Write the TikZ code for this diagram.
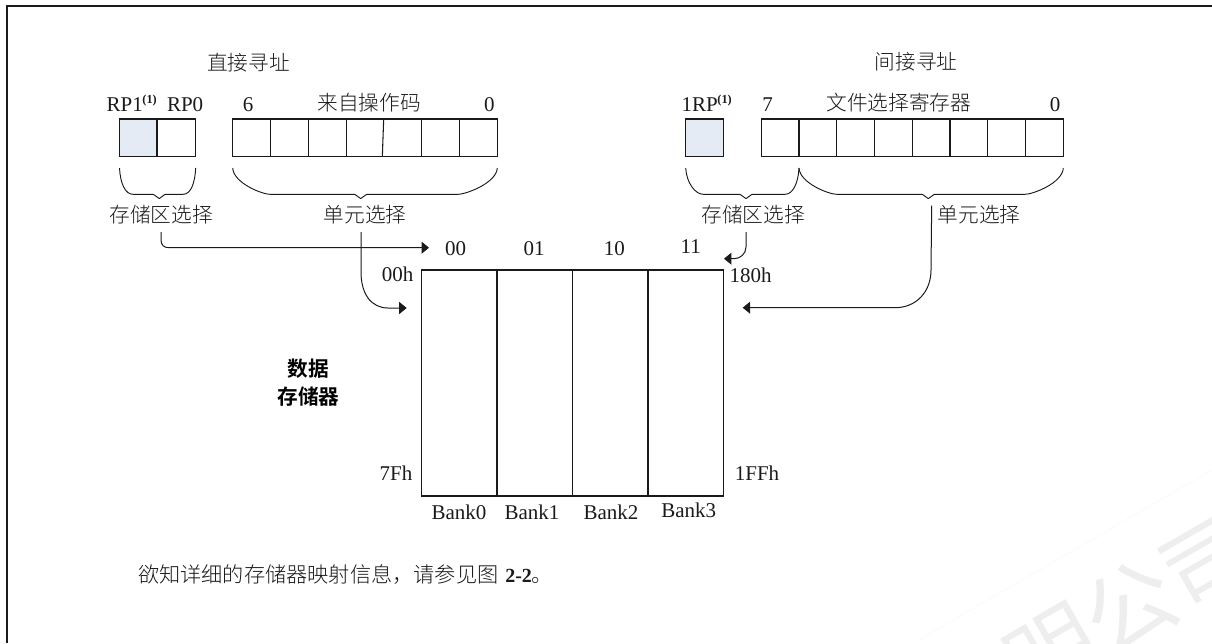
\documentclass[tikz,border=0pt]{standalone}
\usepackage{fontspec}
\setmainfont{Liberation Serif}
\newfontfamily\cjk[UprightFont={* Light},BoldFont={* Bold}]{Noto Sans CJK SC}
\newfontfamily\cjkreg{Noto Sans CJK SC}
\usetikzlibrary{arrows.meta}
\definecolor{inkc}{HTML}{1A1A1A}
\definecolor{bluefill}{HTML}{E4EBF5}
\definecolor{markc}{HTML}{EEEEEE}
\tikzset{
  cell/.style={draw=inkc,line width=0.8pt,inner sep=0,outer sep=0,anchor=center},
  lat/.style={inner sep=0,outer sep=0,font=\fontsize{15.75}{18}\selectfont,text=inkc},
  zh/.style={inner sep=0,outer sep=0,font=\fontsize{15.5}{18}\selectfont\cjk,text=inkc},
  zhbold/.style={inner sep=0,outer sep=0,font=\fontsize{15.5}{18}\selectfont\cjk\bfseries,text=black},
  wire/.style={draw=inkc,line width=0.75pt},
  wirearrow/.style={wire,-{Triangle[length=5.6pt,width=9pt]}},
  bracket/.style={draw=inkc,line width=0.7pt,line join=round},
  frameline/.style={draw=inkc,line width=1pt},
}
\newcommand{\cellat}[6]{\node[cell,fill=#6,minimum width={(#3-#2)*0.75pt},minimum height={(#5-#4)*0.75pt}] (#1) at ({(#2+#3)/2},{(#4+#5)/2}) {};}
% x0, x1 (curve ends), tip notch left, tip x, notch right, x2 (curve start), x3
\newcommand{\bracedraw}[7]{\draw[bracket] (#1,168) .. controls (#1+0.8,183) and (#2-8,194.3) .. (#2,194.3) -- (#3,194.3) -- (#4,198.6) -- (#5,194.3) -- (#6,194.3) .. controls (#6+8,194.3) and (#7-0.8,183) .. (#7,168);}
\newcommand{\supone}{\raisebox{5.4pt}{\fontsize{9.2}{10}\selectfont\bfseries\kern-0.3pt(1)}}
\begin{document}
\begin{tikzpicture}[x=0.75pt,y=-0.75pt]
\useasboundingbox (0,0) rectangle (1212,643);
\fill[white] (0,0) rectangle (1212,643);
% watermark
\begin{scope}
\clip (0,0) rectangle (1212,643);
\draw[draw=black!2,line width=0.5pt] (917,641) -- (1212,470);
\node[inner sep=0,text=markc,rotate=30,font=\fontsize{67.5}{70}\selectfont\cjkreg] (wmark) at (1130,607) {明公司};
\end{scope}
% frame
\coordinate (frameBL) at (7,643);
\coordinate (frameTL) at (7,6);
\coordinate (frameTR) at (1212,6);
\draw[frameline] (frameBL) -- (frameTL) -- (frameTR);
% headings
\node[zh] (hdirect) at (248.5,62.5) {直接寻址};
\node[zh] (hindirect) at (916,62) {间接寻址};
% direct registers
\node[lat,anchor=base west] (rp1) at (106.7,111) {RP1\supone};
\node[lat,anchor=base west] (rp0) at (167,111) {RP0};
\node[lat,anchor=base] (six) at (248,111) {6};
\node[zh] (opcode) at (369,103) {来自操作码};
\node[lat,anchor=base] (zeroa) at (489.3,111) {0};
\cellat{a1}{119.5}{157}{119}{156.7}{bluefill}
\cellat{a0}{157}{195.7}{119}{156.7}{white}
\cellat{b6}{232.7}{270.3}{119}{156.7}{white}
\cellat{b5}{270.3}{308.3}{119}{156.7}{white}
\cellat{b4}{308.3}{346.3}{119}{156.7}{white}
\cellat{b32}{346.3}{421.3}{119}{156.7}{white}
\cellat{b1}{421.3}{459.3}{119}{156.7}{white}
\cellat{b0}{459.3}{497.3}{119}{156.7}{white}
\draw[draw=inkc,line width=0.8pt] ([xshift=-0.1pt]b32.north) -- ([xshift=-1.1pt]b32.south);
% indirect registers
\node[lat,anchor=base west] (rp1r) at (681.7,111) {1RP\supone};
\node[lat,anchor=base] (seven) at (767.7,111) {7};
\node[zh] (fsr) at (898.7,103) {文件选择寄存器};
\node[lat,anchor=base] (zerob) at (1055,111) {0};
\cellat{c1}{685.7}{723.3}{119}{156.7}{bluefill}
\cellat{d7}{761.3}{799}{119}{156.7}{white}
\cellat{d6}{799}{836.7}{119}{156.7}{white}
\cellat{d5}{836.7}{874.3}{119}{156.7}{white}
\cellat{d4}{874.3}{912.3}{119}{156.7}{white}
\cellat{d3}{912.3}{950}{119}{156.7}{white}
\cellat{d2}{950}{987.7}{119}{156.7}{white}
\cellat{d1}{987.7}{1025.3}{119}{156.7}{white}
\cellat{d0}{1025.3}{1063.3}{119}{156.7}{white}
% braces
\bracedraw{119.5}{133}{153.3}{159.3}{165}{183}{195.7}
\bracedraw{232.7}{270}{354.7}{360.7}{366.7}{458}{497.3}
\bracedraw{685.7}{703.3}{740}{746}{752}{785}{799}
\bracedraw{799}{836.7}{922.3}{928.3}{934.3}{1025}{1063.3}
% brace labels
\node[zh,minimum height=25.5pt] (bankselL) at (161,215) {存储区选择};
\node[zh,minimum height=25.5pt] (unitselL) at (365,215) {单元选择};
\node[zh,minimum height=25.5pt] (bankselR) at (753,215) {存储区选择};
\node[zh] (unitselR) at (979,215) {单元选择};
% memory
\cellat{m0}{421.7}{497}{270}{496}{white}
\cellat{m1}{497}{572.7}{270}{496}{white}
\cellat{m2}{572.7}{648}{270}{496}{white}
\cellat{m3}{648}{723.7}{270}{496}{white}
\node[lat,anchor=base] (t00) at (455.7,255) {00};
\node[lat,anchor=base] (t01) at (534,255) {01};
\node[lat,anchor=base] (t10) at (614.3,255) {10};
\node[lat,anchor=base] (t11) at (690.7,253) {11};
\node[lat,anchor=base] (a00h) at (397.5,281) {00h};
\node[lat,anchor=base] (a180h) at (750.5,282.5) {180h};
\node[lat,anchor=base] (a7Fh) at (396,480) {7Fh};
\node[lat,anchor=base] (a1FFh) at (757,480) {1FFh};
\node[lat,anchor=base] (bank0) at (459,519) {Bank0};
\node[lat,anchor=base] (bank1) at (532,519) {Bank1};
\node[lat,anchor=base] (bank2) at (611,519) {Bank2};
\node[lat,anchor=base] (bank3) at (688.7,517.5) {Bank3};
\node[zhbold] (data1) at (308,369) {数据};
\node[zhbold] (data2) at (308.5,397) {存储器};
% connectors
\coordinate (tip1) at (429,247.7);
\coordinate (tip2) at (406.7,308);
\coordinate (tip3) at (724,258.7);
\coordinate (tip4) at (742.7,307.7);
\draw[wirearrow] (bankselL.south) -- (161,240) .. controls (161,245) and (164,247.7) .. (169,247.7) -- (tip1);
\draw[wirearrow] ([xshift=-3pt]unitselL.south) -- (361,272) .. controls (361,295) and (372,308) .. (388,308) -- (tip2);
\draw[wirearrow] ([xshift=-5.25pt]bankselR.south) -- (746,247) .. controls (746,254) and (740,258.7) .. (734,258.7) -- (tip3);
\draw[wirearrow] ([xshift=-4.5pt]unitselR.north west) -- (931,270) .. controls (931,292) and (916,307.7) .. (895,307.7) -- (tip4);
% note
\node[inner sep=0,outer sep=0,text=inkc,anchor=west,font=\fontsize{15.9}{18}\selectfont\cjk] (note) at (138,574) {欲知详细的存储器映射信息，请参见图\kern5.2pt{\fontspec{Liberation Serif}\fontsize{15}{18}\selectfont\bfseries 2-2}。};
\end{tikzpicture}
\end{document}
